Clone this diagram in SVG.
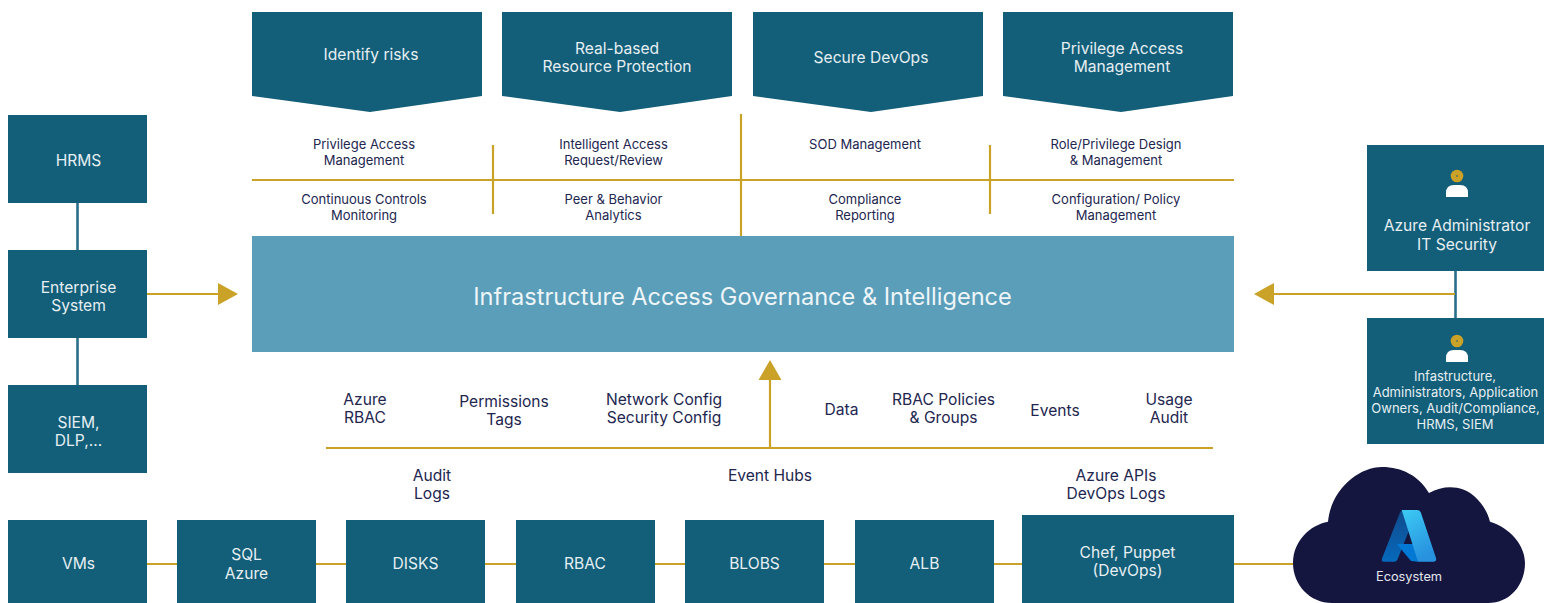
<svg xmlns="http://www.w3.org/2000/svg" width="1551" height="603" viewBox="0 0 1551 603">
<defs>
<style>
text{font-family:"Inter","Liberation Sans",sans-serif;text-anchor:middle}
.box{fill:#135e78}
.w{fill:#e6eff3;font-size:15.6px}
.ws{fill:#e6eff3;font-size:13px}
.d{fill:#22264f;font-size:15.6px}
.s{fill:#22264f;font-size:13px}
.g{stroke:#c9a227;stroke-width:2.2;fill:none}
.t{stroke:#2a6f8a;stroke-width:2.6;fill:none}
.ag{fill:#c9a227}
</style>
<linearGradient id="a1" x1="0" y1="0" x2="0" y2="1"><stop offset="0" stop-color="#114a8b"/><stop offset="1" stop-color="#0669bc"/></linearGradient>
<linearGradient id="a2" x1="0" y1="0" x2="0.4" y2="1"><stop offset="0" stop-color="#3ccbf4"/><stop offset="1" stop-color="#2892df"/></linearGradient>
<g id="person"><circle cx="0" cy="0" r="6.300" fill="#c9a227"/><circle cx="0" cy="0" r="0.800" fill="#135e78"/><path d="M-11 21V17Q-11 9 -3 9H3Q11 9 11 17V21Z" fill="#fff"/></g>
</defs>
<g id="connectors">
<path class="t" d="M77.500 203V250M77.500 338V385M1455.500 271V318"/>
<path class="g" d="M147 564H1300M252 180H1234M493 145V214M741 114V236M990 145V214M326 448H1213M770 448V378M147 294H222M1455 294H1270"/>
<path class="ag" d="M218 283L238 294L218 305ZM1274 283L1254 294L1274 305ZM758.500 380L770 360L781.500 380Z"/>
</g>
<g id="n-identify"><path class="box" d="M252 12H482V96L370 112L252 96Z"/><text class="w" x="371" y="60">Identify risks</text></g>
<g id="n-real"><path class="box" d="M502 12H732V96L620 112L502 96Z"/><text class="w" x="617" y="54">Real-based</text><text class="w" x="617" y="72">Resource Protection</text></g>
<g id="n-devops"><path class="box" d="M753 12H983V96L871 112L753 96Z"/><text class="w" x="871" y="63">Secure DevOps</text></g>
<g id="n-pam"><path class="box" d="M1003 12H1233V96L1121 112L1003 96Z"/><text class="w" x="1122" y="54">Privilege Access</text><text class="w" x="1122" y="72">Management</text></g>
<g id="labels-top">
<text class="s" x="364" y="149">Privilege Access</text><text class="s" x="364" y="165">Management</text>
<text class="s" x="364" y="204">Continuous Controls</text><text class="s" x="364" y="220">Monitoring</text>
<text class="s" x="613.500" y="149">Intelligent Access</text><text class="s" x="613.500" y="165">Request/Review</text>
<text class="s" x="613.500" y="204">Peer &amp; Behavior</text><text class="s" x="613.500" y="220">Analytics</text>
<text class="s" x="865" y="149">SOD Management</text>
<text class="s" x="865" y="204">Compliance</text><text class="s" x="865" y="220">Reporting</text>
<text class="s" x="1116" y="149">Role/Privilege Design</text><text class="s" x="1116" y="165">&amp; Management</text>
<text class="s" x="1116" y="204">Configuration/ Policy</text><text class="s" x="1116" y="220">Management</text>
</g>
<g id="n-core"><rect x="252" y="236" width="982" height="116" fill="#5a9eba"/><text x="742.500" y="305" fill="#eef5f8" font-size="23.6">Infrastructure Access Governance &amp; Intelligence</text></g>
<g id="n-hrms"><rect class="box" x="8" y="115" width="139" height="88"/><text class="w" x="78.500" y="166">HRMS</text></g>
<g id="n-enterprise"><rect class="box" x="8" y="250" width="139" height="88"/><text class="w" x="78.500" y="293">Enterprise</text><text class="w" x="78.500" y="311">System</text></g>
<g id="n-siem"><rect class="box" x="8" y="385" width="139" height="88"/><text class="w" x="78.500" y="428">SIEM,</text><text class="w" x="78.500" y="446">DLP,...</text></g>
<g id="n-admin"><rect class="box" x="1367" y="145" width="177" height="126"/><use href="#person" x="1457" y="176"/><text class="w" x="1457" y="231">Azure Administrator</text><text class="w" x="1457" y="250">IT Security</text></g>
<g id="n-infra"><rect class="box" x="1367" y="318" width="177" height="126"/><use href="#person" x="1457" y="341"/><text class="ws" x="1455" y="381">Infastructure,</text><text class="ws" x="1455.500" y="397">Administrators, Application</text><text class="ws" x="1455.500" y="413">Owners, Audit/Compliance,</text><text class="ws" x="1455" y="429">HRMS, SIEM</text></g>
<g id="labels-mid">
<text class="d" x="365" y="405">Azure</text><text class="d" x="365" y="423">RBAC</text>
<text class="d" x="504" y="407">Permissions</text><text class="d" x="504" y="425">Tags</text>
<text class="d" x="664" y="405">Network Config</text><text class="d" x="664" y="423">Security Config</text>
<text class="d" x="841.500" y="415">Data</text>
<text class="d" x="943.500" y="405">RBAC Policies</text><text class="d" x="943.500" y="423">&amp; Groups</text>
<text class="d" x="1055" y="416">Events</text>
<text class="d" x="1169" y="405">Usage</text><text class="d" x="1169" y="423">Audit</text>
<text class="d" x="432" y="481">Audit</text><text class="d" x="432" y="499">Logs</text>
<text class="d" x="770" y="481">Event Hubs</text>
<text class="d" x="1116" y="481">Azure APIs</text><text class="d" x="1116" y="499">DevOps Logs</text>
</g>
<g id="n-vms"><rect class="box" x="8" y="520" width="139" height="83"/><text class="w" x="78.500" y="569">VMs</text></g>
<g id="n-sql"><rect class="box" x="177" y="520" width="139" height="83"/><text class="w" x="246.500" y="560">SQL</text><text class="w" x="246.500" y="579">Azure</text></g>
<g id="n-disks"><rect class="box" x="346" y="520" width="139" height="83"/><text class="w" x="415.500" y="569">DISKS</text></g>
<g id="n-rbac"><rect class="box" x="516" y="520" width="139" height="83"/><text class="w" x="585" y="569">RBAC</text></g>
<g id="n-blobs"><rect class="box" x="685" y="520" width="139" height="83"/><text class="w" x="754.500" y="569">BLOBS</text></g>
<g id="n-alb"><rect class="box" x="855" y="520" width="139" height="83"/><text class="w" x="924.500" y="569">ALB</text></g>
<g id="n-chef"><rect class="box" x="1022" y="515" width="212" height="88"/><text class="w" x="1127.500" y="558">Chef, Puppet</text><text class="w" x="1127.500" y="576">(DevOps)</text></g>
<g id="n-cloud"><path d="M1328 521.700C1331 490 1358 467 1382 467C1402 467 1419 476 1429 493C1445 484 1463 486 1474 496C1484 505 1488 514 1490 521.700C1510 528 1525 545 1525 563C1525 585 1510 603 1488 603H1332C1310 603 1293 585 1293 563C1293 541 1310 525 1328 521.700Z" fill="#14163f"/>
<path d="M1404 510H1417L1397.500 559.500Q1396.500 561.700 1394 561.700H1384Q1381 561.700 1382 558.500L1400 512.500Q1401 510 1404 510Z" fill="url(#a1)"/>
<path d="M1396.700 544H1416L1418 561.700L1411 561Z" fill="#0078d4"/>
<path d="M1401.700 510H1417Q1420 510 1421 513L1436 558Q1437 561.700 1433 561.700H1418Z" fill="url(#a2)"/>
<text x="1409" y="581" fill="#e6e6ee" font-size="12.800">Ecosystem</text></g>
</svg>
